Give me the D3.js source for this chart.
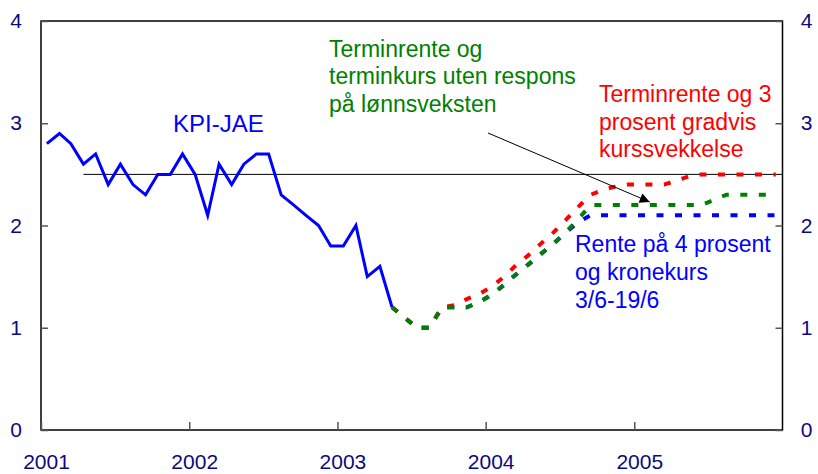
<!DOCTYPE html>
<html>
<head>
<meta charset="utf-8">
<script src="https://cdn.jsdelivr.net/npm/d3@7"></script>
<style>
  html, body { margin: 0; padding: 0; background: #fff; }
  svg { display: block; font-family: "Liberation Sans", Arial, sans-serif; }
</style>
</head>
<body>
<svg id="chart" width="818" height="474"></svg>
<script>
// ---- Data ----
const years = [2001, 2002, 2003, 2004, 2005];
const yTicks = [0, 1, 2, 3, 4];

// KPI-JAE, monthly, Jan 2001 - May 2003
const kpiStart = [2001, 0];
const kpiValues = [
  2.8, 2.9, 2.8, 2.6, 2.7, 2.4, 2.6, 2.4, 2.3, 2.5, 2.5, 2.7,
  2.5, 2.1, 2.6, 2.4, 2.6, 2.7, 2.7, 2.3, 2.2, 2.1, 2.0, 1.8,
  1.8, 2.0, 1.5, 1.6, 1.2
];

// Projections, monthly, May 2003 - Dec 2005
const projStart = [2003, 4];
const greenValues = [
  1.2, 1.1, 1.0, 1.0, 1.2, 1.2, 1.2, 1.25,
  1.32, 1.42, 1.52, 1.62, 1.72, 1.82, 1.93, 2.06,
  2.2, 2.2, 2.2, 2.2, 2.2, 2.2, 2.2, 2.2,
  2.2, 2.2, 2.25, 2.3, 2.3, 2.3, 2.3, 2.3
];
const redValues = [
  1.2, 1.1, 1.0, 1.0, 1.2, 1.22, 1.28, 1.33,
  1.4, 1.5, 1.61, 1.71, 1.82, 1.93, 2.05, 2.18,
  2.3, 2.35, 2.38, 2.4, 2.4, 2.4, 2.4, 2.44,
  2.48, 2.5, 2.5, 2.5, 2.5, 2.5, 2.5, 2.5
];
const blueValues = [
  1.2, 1.1, 1.0, 1.0, 1.2, 1.2, 1.2, 1.25,
  1.32, 1.42, 1.52, 1.62, 1.72, 1.82, 1.93, 2.03,
  2.1, 2.1, 2.1, 2.1, 2.1, 2.1, 2.1, 2.1,
  2.1, 2.1, 2.1, 2.1, 2.1, 2.1, 2.1, 2.1
];

// Inflation target line
const targetValue = 2.5;
const targetStart = [2001, 3];

const labelKPI = ["KPI-JAE"];
const labelGreen = ["Terminrente og", "terminkurs uten respons", "på lønnsveksten"];
const labelRed = ["Terminrente og 3", "prosent gradvis", "kurssvekkelse"];
const labelBlue = ["Rente på 4 prosent", "og kronekurs", "3/6-19/6"];

// ---- Helpers ----
const midMonth = (yr, m) => new Date(yr, m, 15, 12);
const toSeries = (start, vals) => vals.map((v, i) => ({ date: midMonth(start[0], start[1] + i), value: v }));

const svg = d3.select("#chart");
const plotLeft = 41, plotRight = 782.5, plotTop = 21, plotBottom = 430;

const x = d3.scaleTime()
  .domain([new Date(2001, 0, 1), new Date(2006, 0, 1)])
  .range([plotLeft, plotRight]);
const y = d3.scaleLinear().domain([0, 4]).range([plotBottom, plotTop]);

const navy = "#0a0a80";

// Target line
svg.append("line")
  .attr("x1", x(midMonth(targetStart[0], targetStart[1])))
  .attr("x2", plotRight)
  .attr("y1", y(targetValue)).attr("y2", y(targetValue))
  .attr("stroke", "#000").attr("stroke-width", 1);

// Frame
svg.append("rect")
  .attr("x", plotLeft).attr("y", plotTop)
  .attr("width", plotRight - plotLeft).attr("height", plotBottom - plotTop)
  .attr("fill", "none").attr("stroke", "#000").attr("stroke-width", 1.5);

// Left / right axes (ticks inward)
const leftAxis = d3.axisLeft(y).tickValues(yTicks).tickSize(-7).tickPadding(18).tickFormat(d3.format("d"));
const gL = svg.append("g").attr("transform", `translate(${plotLeft},0)`).call(leftAxis);
const rightAxis = d3.axisRight(y).tickValues(yTicks).tickSize(-7).tickPadding(18).tickFormat(d3.format("d"));
const gR = svg.append("g").attr("transform", `translate(${plotRight},0)`).call(rightAxis);
[gL, gR].forEach(g => {
  g.select(".domain").remove();
  g.selectAll(".tick line").attr("stroke", "#555").attr("stroke-width", 1.5);
  g.selectAll(".tick text")
    .attr("font-size", 21).attr("fill", navy)
    .attr("font-family", "Liberation Sans, Arial, sans-serif");
});
gL.selectAll(".tick text").attr("text-anchor", "middle").attr("x", -25);
gR.selectAll(".tick text").attr("text-anchor", "middle").attr("x", 24);

// Bottom axis
const bottomAxis = d3.axisBottom(x)
  .tickValues(years.map(yr => new Date(yr, 0, 1)))
  .tickSize(-8).tickPadding(24)
  .tickFormat(d3.timeFormat("%Y"));
const gB = svg.append("g").attr("transform", `translate(0,${plotBottom})`).call(bottomAxis);
gB.select(".domain").remove();
gB.selectAll(".tick line").attr("stroke", "#555").attr("stroke-width", 1.5);
gB.selectAll(".tick text")
  .attr("font-size", 21).attr("fill", navy)
  .attr("font-family", "Liberation Sans, Arial, sans-serif")
  .attr("dx", 5);

// Lines
const line = d3.line().x(d => x(d.date)).y(d => y(d.value));

svg.append("path").datum(toSeries(kpiStart, kpiValues))
  .attr("d", line).attr("fill", "none")
  .attr("stroke", "#0000ff").attr("stroke-width", 3).attr("stroke-linejoin", "miter");

const dash = "7,11.5";
[["#0000ff", blueValues], ["#ff0000", redValues], ["#008000", greenValues]].forEach(([c, vals]) => {
  svg.append("path").datum(toSeries(projStart, vals))
    .attr("d", line).attr("fill", "none")
    .attr("stroke", c).attr("stroke-width", 4)
    .attr("stroke-dasharray", dash);
});

// Arrow
svg.append("defs").append("marker")
  .attr("id", "arrowhead").attr("viewBox", "0 0 10 10")
  .attr("refX", 10).attr("refY", 5)
  .attr("markerWidth", 14).attr("markerHeight", 10)
  .attr("markerUnits", "userSpaceOnUse")
  .attr("orient", "auto")
  .append("path").attr("d", "M0,0 L10,5 L0,10 z").attr("fill", "#000");

svg.append("line")
  .attr("x1", 488).attr("y1", 133)
  .attr("x2", x(new Date(2005, 1, 8))).attr("y2", y(2.23))
  .attr("stroke", "#000").attr("stroke-width", 1)
  .attr("marker-end", "url(#arrowhead)");

// Text annotations
function textBlock(lines, xPos, yFirst, lh, color, size) {
  const t = svg.append("text").attr("fill", color).attr("font-size", size)
    .attr("font-family", "Liberation Sans, Arial, sans-serif");
  lines.forEach((s, i) => {
    t.append("tspan").attr("x", xPos).attr("y", yFirst + i * lh).text(s);
  });
}
textBlock(labelKPI, 173, 131.5, 0, "#0000ff", 24);
textBlock(labelGreen, 329, 56.5, 27.5, "#008000", 23);
textBlock(labelRed, 599, 102.3, 27.2, "#ff0000", 23);
textBlock(labelBlue, 575, 251.7, 28.3, "#0000ff", 23);
</script>
</body>
</html>
